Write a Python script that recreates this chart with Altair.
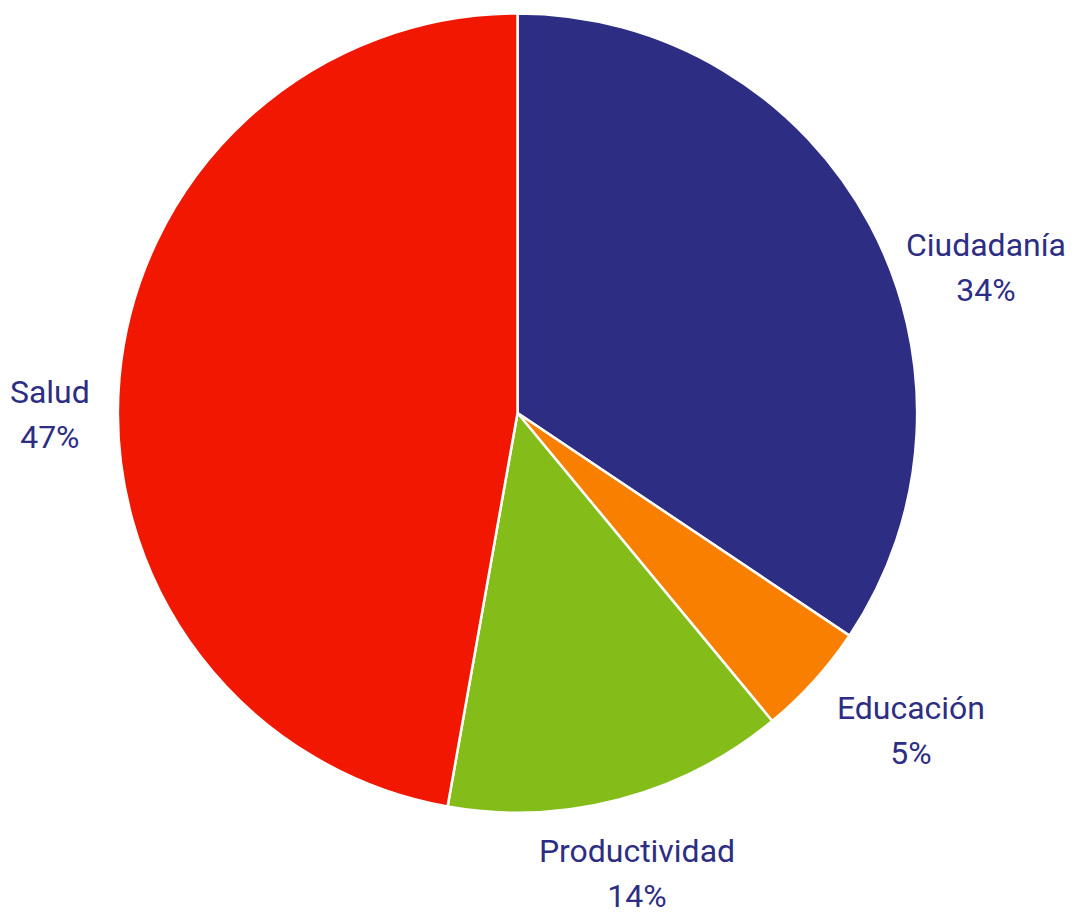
import altair as alt
import pandas as pd

categories = ["Ciudadanía", "Educación", "Productividad", "Salud"]
values = [34.4, 4.6, 13.8, 47.2]
pct_labels = ["34%", "5%", "14%", "47%"]
colors = ["#2d2e83", "#f97f00", "#84bd1a", "#f11700"]

# label nudges (pixels) relative to the slice mid-angle anchor
nudges = {"Ciudadanía": (41, 61), "Educación": (34, -29), "Productividad": (-4, -30), "Salud": (15, 23)}

df = pd.DataFrame({
    "cat": categories,
    "value": values,
    "order": list(range(len(categories))),
    "label": [c + "\n" + p for c, p in zip(categories, pct_labels)],
})

base = alt.Chart(df).encode(
    theta=alt.Theta("value:Q", stack=True),
    order=alt.Order("order:Q"),
)

arcs = base.mark_arc(outerRadius=400, stroke="white", strokeWidth=2.5).encode(
    color=alt.Color("cat:N", scale=alt.Scale(domain=categories, range=colors), legend=None)
)

txt_style = dict(radius=485, font="Roboto", fontSize=32, lineHeight=45,
                 lineBreak="\n", color="#2d2e83", align="center", baseline="middle")

layers = [arcs]
for c in categories:
    dx, dy = nudges[c]
    layers.append(
        base.mark_text(dx=dx, dy=dy, **txt_style).encode(
            text=alt.condition(f"datum.cat == '{c}'", "label:N", alt.value(""))
        )
    )

chart = alt.layer(*layers).properties(width=1020, height=806, padding=0).configure_view(stroke=None)

chart.save("out.html", embed_options={"renderer": "svg", "actions": False})
